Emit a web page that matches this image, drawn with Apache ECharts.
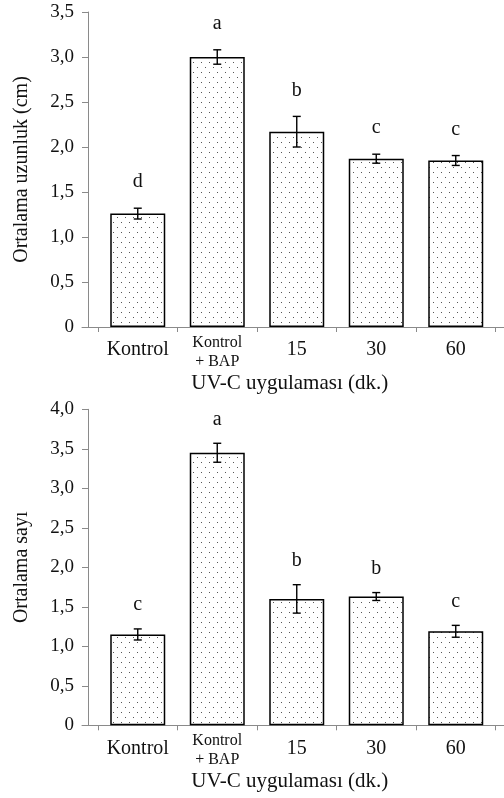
<!DOCTYPE html>
<html>
<head>
<meta charset="utf-8">
<script src="https://cdn.jsdelivr.net/npm/echarts@6/dist/echarts.min.js"></script>
<style>
html,body{margin:0;padding:0;background:#fff;}
#c{width:504px;height:798px;}
</style>
</head>
<body>
<div id="c"></div>
<script>
// ---- data ----
const categories = ['Kontrol', 'Kontrol\n+ BAP', '15', '30', '60'];
const lengthValues = [1.26, 3.00, 2.17, 1.87, 1.85];
const lengthErrors = [0.06, 0.08, 0.17, 0.05, 0.055];
const lengthLetters = ['d', 'a', 'b', 'c', 'c'];
const countValues = [1.15, 3.45, 1.60, 1.63, 1.19];
const countErrors = [0.07, 0.12, 0.18, 0.05, 0.075];
const countLetters = ['c', 'a', 'b', 'b', 'c'];
const lengthTicks = ['0', '0,5', '1,0', '1,5', '2,0', '2,5', '3,0', '3,5'];
const countTicks = ['0', '0,5', '1,0', '1,5', '2,0', '2,5', '3,0', '3,5', '4,0'];
const yNameTop = 'Ortalama uzunluk (cm)';
const yNameBottom = 'Ortalama sayı';
const xName = 'UV-C uygulaması (dk.)';

// ---- styles ----
const FONT = '"Liberation Serif", "Times New Roman", serif';
const AXIS_GRAY = '#8a8a8a';

function makePattern() {
  const c = document.createElement('canvas');
  c.width = 8; c.height = 10;
  const g = c.getContext('2d');
  g.fillStyle = '#fff'; g.fillRect(0, 0, 8, 10);
  g.fillStyle = '#555';
  g.fillRect(1, 2, 1, 1);
  g.fillRect(5, 7, 1, 1);
  return c;
}
const pattern = { image: makePattern(), repeat: 'repeat' };

function tickFormatter(ticks) {
  return function (v) {
    const idx = Math.round(v / 0.5);
    return ticks[idx] !== undefined ? ticks[idx] : '';
  };
}

function catFormatter(v) {
  if (v.indexOf('\n') >= 0) {
    return v.split('\n').map(s => '{s|' + s + '}').join('\n');
  }
  return '{n|' + v + '}';
}

function errRender(letters, gap) {
  return function (params, api) {
    const i = api.value(0), v = api.value(1), e = api.value(2);
    const top = api.coord([i, v + e]);
    const bot = api.coord([i, v - e]);
    const cap = 4;
    const st = { stroke: '#000', lineWidth: 1.4 };
    return {
      type: 'group',
      children: [
        { type: 'line', shape: { x1: top[0], y1: top[1], x2: bot[0], y2: bot[1] }, style: st },
        { type: 'line', shape: { x1: top[0] - cap, y1: top[1], x2: top[0] + cap, y2: top[1] }, style: st },
        { type: 'line', shape: { x1: bot[0] - cap, y1: bot[1], x2: bot[0] + cap, y2: bot[1] }, style: st },
        { type: 'text', x: top[0], y: top[1] - gap,
          style: { text: letters[params.dataIndex], fill: '#111', font: '20px ' + FONT,
                   textAlign: 'center', textVerticalAlign: 'middle' } }
      ]
    };
  };
}

const grids = [
  { left: 98, right: 8.5, top: 12, height: 315 },
  { left: 98, right: 8.5, top: 409.3, height: 316 },
  { left: 82, right: 0, top: 12, height: 315 },
  { left: 82, right: 0, top: 409.3, height: 316 }
];

function catAxis(gi) {
  return {
    type: 'category', gridIndex: gi, data: categories,
    axisLine: { show: false },
    axisTick: { show: true, length: 5, lineStyle: { color: AXIS_GRAY } },
    axisLabel: {
      margin: 6, color: '#111', fontFamily: FONT, formatter: catFormatter,
      rich: {
        n: { fontSize: 20, lineHeight: 34, fontFamily: FONT, color: '#111' },
        s: { fontSize: 16, lineHeight: 19, fontFamily: FONT, color: '#111' }
      }
    },
    name: xName, nameLocation: 'middle', nameGap: 46,
    nameTextStyle: { fontSize: 21, fontFamily: FONT, color: '#111', padding: [0, 14, 0, 0] }
  };
}

function lineAxis(gi) {
  return {
    type: 'value', gridIndex: gi, min: 0, max: 1,
    axisLine: { show: true, onZero: false, lineStyle: { color: AXIS_GRAY, width: 1 } },
    axisTick: { show: false }, axisLabel: { show: false }, splitLine: { show: false }
  };
}

function valAxis(gi, max, ticks, name) {
  return {
    type: 'value', gridIndex: gi, min: 0, max: max, interval: 0.5, offset: 10,
    axisLine: { show: true, lineStyle: { color: AXIS_GRAY, width: 1 } },
    axisTick: { show: true, length: 6, lineStyle: { color: AXIS_GRAY } },
    axisLabel: { margin: 14, fontSize: 19, fontFamily: FONT, color: '#111', formatter: tickFormatter(ticks) },
    splitLine: { show: false },
    name: name, nameLocation: 'middle', nameGap: 56,
    nameTextStyle: { fontSize: 20, fontFamily: FONT, color: '#111' }
  };
}

function hiddenY(gi) {
  return { type: 'value', gridIndex: gi, min: 0, max: 1, show: false };
}

function barSeries(xi, yi, values) {
  return {
    type: 'bar', xAxisIndex: xi, yAxisIndex: yi, data: values, barWidth: 55,
    itemStyle: { color: pattern, borderColor: '#000', borderWidth: 1.5 },
    silent: true, animation: false
  };
}

function errSeries(xi, yi, values, errors, letters, gap) {
  return {
    type: 'custom', xAxisIndex: xi, yAxisIndex: yi,
    data: values.map((v, i) => [i, v, errors[i]]),
    renderItem: errRender(letters, gap), z: 5, silent: true, animation: false
  };
}

const chart = echarts.init(document.getElementById('c'), null, { renderer: 'canvas' });
chart.setOption({
  backgroundColor: '#fff',
  animation: false,
  grid: grids,
  xAxis: [catAxis(0), catAxis(1), lineAxis(2), lineAxis(3)],
  yAxis: [valAxis(0, 3.5, lengthTicks, yNameTop), valAxis(1, 4, countTicks, yNameBottom), hiddenY(2), hiddenY(3)],
  series: [
    barSeries(0, 0, lengthValues),
    errSeries(0, 0, lengthValues, lengthErrors, lengthLetters, 26),
    barSeries(1, 1, countValues),
    errSeries(1, 1, countValues, countErrors, countLetters, 24),
    { type: 'line', xAxisIndex: 2, yAxisIndex: 2, data: [], silent: true },
    { type: 'line', xAxisIndex: 3, yAxisIndex: 3, data: [], silent: true }
  ]
});
</script>
</body>
</html>
